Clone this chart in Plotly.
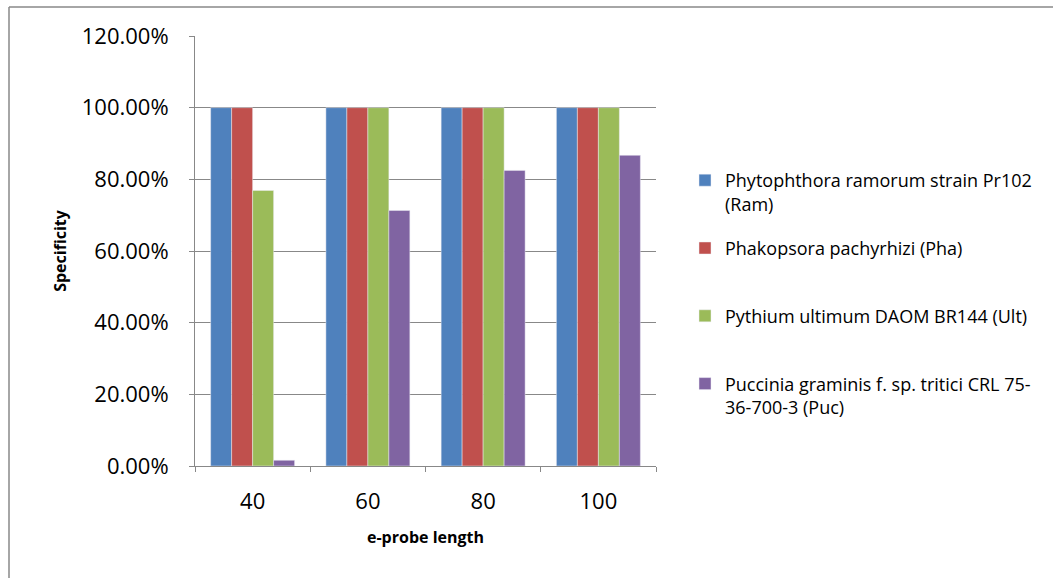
import plotly.graph_objects as go

categories = ["40", "60", "80", "100"]
series_names = [
    "Phytophthora ramorum strain Pr102<br>(Ram)",
    "Phakopsora pachyrhizi (Pha)<br> ",
    "Pythium ultimum DAOM BR144 (Ult)<br> ",
    "Puccinia graminis f. sp. tritici CRL 75-<br>36-700-3 (Puc)",
]
ram = [1.0, 1.0, 1.0, 1.0]
pha = [1.0, 1.0, 1.0, 1.0]
ult = [0.769, 1.0, 1.0, 1.0]
puc = [0.016, 0.713, 0.825, 0.867]
colors = ["#4F81BD", "#C0504D", "#9BBB59", "#8064A2"]

FONT = "Open Sans"
GRID = "#888888"

fig = go.Figure()
for name, vals, col in zip(series_names, [ram, pha, ult, puc], colors):
    fig.add_trace(go.Bar(
        x=categories, y=vals, name=name,
        marker=dict(color=col, line=dict(color="rgba(235,235,245,0.8)", width=0.6)),
        legendgroup=name,
    ))

L, R, T, B = 195, 656, 36, 466
W, H = 1053, 578
pw, ph = R - L, B - T

fig.update_layout(
    width=W, height=H,
    margin=dict(l=L, r=W - R, t=T, b=H - B, autoexpand=False),
    paper_bgcolor="white", plot_bgcolor="white",
    barmode="group", bargap=0.2715, bargroupgap=0,
    font=dict(family=FONT, color="#000000"),
    showlegend=True,
    legend=dict(
        x=(685 - L) / pw, y=(B - 162) / ph, xanchor="left", yanchor="top",
        font=dict(family=FONT, size=18, color="#000000"),
        valign="top", tracegroupgap=18, itemwidth=30,
        bgcolor="rgba(0,0,0,0)",
    ),
    xaxis=dict(
        showline=True, linecolor=GRID, linewidth=1,
        ticks="outside", tickson="boundaries", ticklen=5, tickcolor=GRID,
        ticklabelstandoff=16,
        tickfont=dict(family=FONT, size=22, color="#000000"),
        title=dict(text="<b>e-probe length</b>", font=dict(family=FONT, size=16, color="#000000"), standoff=17),
        showgrid=False,
    ),
    yaxis=dict(
        range=[0, 1.2], dtick=0.2, tickformat=".2%",
        showline=True, linecolor=GRID, linewidth=1,
        ticks="outside", ticklen=5, tickcolor=GRID,
        ticklabelstandoff=16,
        showgrid=True, gridcolor=GRID, gridwidth=1,
        tickfont=dict(family=FONT, size=22, color="#000000"),
        title=dict(text="<b>Specificity</b>", font=dict(family=FONT, size=16, color="#000000"), standoff=11),
        zeroline=False,
    ),
)

x0 = (9 - L) / pw
y1 = (B - 7) / ph
fig.add_shape(type="line", xref="paper", yref="paper", x0=x0, x1=x0, y0=-1, y1=y1,
              line=dict(color="#888888", width=1.5))
fig.add_shape(type="line", xref="paper", yref="paper", x0=x0, x1=3, y0=y1, y1=y1,
              line=dict(color="#888888", width=1.5))

fig.write_html("out.html")
